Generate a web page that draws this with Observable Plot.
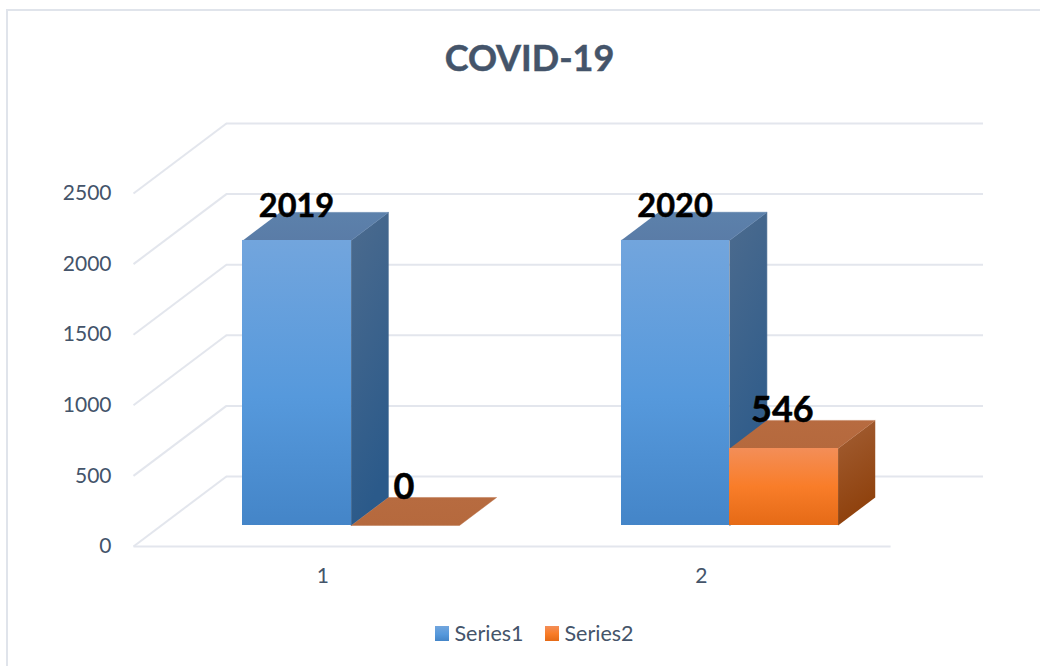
<!DOCTYPE html>
<html>
<head>
<meta charset="utf-8">
<script src="https://cdn.jsdelivr.net/npm/d3@7"></script>
<script src="https://cdn.jsdelivr.net/npm/@observablehq/plot@0.6"></script>
<style>
  html, body { margin: 0; padding: 0; background: #fff; }
  #page { position: relative; width: 1040px; height: 666px; overflow: hidden; font-family: Lato, sans-serif; color: #44546a; }
  #frame { position: absolute; left: 6px; top: 9px; right: -4px; bottom: -4px; border: 2px solid #e0e4eb; }
  #title { position: relative; height: 105px; text-align: center; font-size: 36px; font-weight: 700; -webkit-text-stroke: 0.5px #44546a; padding-left: 19px; box-sizing: border-box; padding-top: 17px; line-height: 80px; }
  #chart { position: relative; height: 495px; }
  #chart svg { display: block; }
  #legend { position: relative; height: 66px; }
  .sw { position: absolute; top: 26px; width: 14px; height: 15px; }
  .lb { position: absolute; top: 20px; font-size: 21.5px; line-height: 26px; }
</style>
</head>
<body>
<div id="page">
  <div id="frame"></div>
  <div id="title">COVID-19</div>
  <div id="chart"></div>
  <div id="legend"></div>
</div>
<script>
const categories = [1, 2];
const seriesNames = ["Series1", "Series2"];
const series1 = [2019, 2020];
const series2 = [0, 546];
const yTicks = [0, 500, 1000, 1500, 2000, 2500];

// Oblique projection of the 3D box: depth d in 0..1 shifts x and y in data units.
const depthX = 0.2454, depthY = 496;
const barStart = -0.2848, barWidth = 0.2862;
const depthFront = 0.3, depthBack = 0.7;
const px = (x, d) => x + depthX * d;
const py = (v, d) => v + depthY * d;

const bars = (values, offset, name) => values.map((v, i) => ({
  name, v,
  x1: categories[i] + barStart + offset * barWidth,
  x2: categories[i] + barStart + (offset + 1) * barWidth
}));
const s1 = bars(series1, 0, seriesNames[0]);
const s2 = bars(series2, 1, seriesNames[1]);

const front = b => ({x1: px(b.x1, depthFront), x2: px(b.x2, depthFront), y1: py(0, depthFront), y2: py(b.v, depthFront)});
const topFace = bs => bs.flatMap((b, z) => [
  {z, x: px(b.x1, depthFront), y: py(b.v, depthFront)},
  {z, x: px(b.x2, depthFront), y: py(b.v, depthFront)},
  {z, x: px(b.x2, depthBack), y: py(b.v, depthBack)},
  {z, x: px(b.x1, depthBack), y: py(b.v, depthBack)}
]);
const sideFace = bs => bs.flatMap((b, z) => [
  {z, x: px(b.x2, depthFront), y: py(b.v, depthFront)},
  {z, x: px(b.x2, depthFront), y: py(0, depthFront)},
  {z, x: px(b.x2, depthBack), y: py(0, depthBack)},
  {z, x: px(b.x2, depthBack), y: py(b.v, depthBack)}
]);
const labels = bs => bs.map(b => ({
  x: px((b.x1 + b.x2) / 2, depthFront),
  y: py(b.v, depthFront),
  text: String(b.v)
}));

const gradients = {
  blueFront: [["0%", "#72a5dd"], ["55%", "#5699dc"], ["100%", "#4485c8"]],
  orangeFront: [["0%", "#f38e58"], ["50%", "#f97d29"], ["100%", "#e56a16"]],
  blueSide: [["0%", "#4c6b8e"], ["100%", "#2b5a8a"]],
  orangeSide: [["0%", "#a35f35"], ["100%", "#8e400b"]],
  blueTop: [["0%", "#5c81ab"], ["100%", "#5a7ca7"]],
  orangeTop: [["0%", "#b76b40"], ["100%", "#b5693d"]]
};
const defsMark = () => {
  const defs = d3.create("svg:defs");
  for (const [id, stops] of Object.entries(gradients)) {
    const g = defs.append("linearGradient").attr("id", id)
      .attr("x1", 0).attr("y1", 0).attr("x2", id.endsWith("Side") ? 0.25 : 0).attr("y2", 1);
    for (const [o, c] of stops) g.append("stop").attr("offset", o).attr("stop-color", c);
  }
  return defs.node();
};

const grid = "#e3e6ed";
const x0 = 0.5, x1 = 2.5;
const labelFont = {fontFamily: "Lato, sans-serif", fontWeight: 700, fill: "#000", stroke: "#000", strokeWidth: 0.5};

const chart = Plot.plot({
  width: 1040, height: 495,
  marginLeft: 133, marginRight: 57, marginTop: 18, marginBottom: 54,
  style: {background: "transparent", fontFamily: "Lato, sans-serif"},
  x: {domain: [x0, x1 + depthX]},
  y: {domain: [0, 2500 + depthY]},
  marks: [
    defsMark,
    Plot.axisY(yTicks, {anchor: "left", label: null, tickSize: 0, tickPadding: 22, fontSize: 21, color: "#44546a", tickFormat: d => String(d)}),
    Plot.axisX(categories, {anchor: "bottom", label: null, tickSize: 0, tickPadding: 22, fontSize: 21, color: "#44546a", tickFormat: d => String(d)}),
    Plot.ruleY(yTicks, {y: d => py(d, 1), x1: px(x0, 1), x2: px(x1, 1), stroke: grid, strokeWidth: 2}),
    Plot.link(yTicks, {x1: x0, y1: d => d, x2: px(x0, 1), y2: d => py(d, 1), stroke: grid, strokeWidth: 2}),
    Plot.link([0], {x1: x0, y1: 0, x2: x1, y2: 0, stroke: grid, strokeWidth: 2}),
    Plot.line(sideFace(s1), {x: "x", y: "y", z: "z", fill: "url(#blueSide)", stroke: "url(#blueSide)", strokeWidth: 0.6}),
    Plot.line(topFace(s1), {x: "x", y: "y", z: "z", fill: "url(#blueTop)", stroke: "url(#blueTop)", strokeWidth: 0.6}),
    Plot.rect(s1.map(front), {x1: "x1", x2: "x2", y1: "y1", y2: "y2", fill: "url(#blueFront)", inset: 0, shapeRendering: "crispEdges"}),
    Plot.line(sideFace(s2), {x: "x", y: "y", z: "z", fill: "url(#orangeSide)", stroke: "none"}),
    Plot.line(topFace(s2), {x: "x", y: "y", z: "z", fill: "url(#orangeTop)", stroke: "url(#orangeTop)", strokeWidth: 0.4}),
    Plot.rect(s2.map(front), {x1: "x1", x2: "x2", y1: "y1", y2: "y2", fill: "url(#orangeFront)", inset: 0, shapeRendering: "crispEdges"}),
    Plot.text(labels(s1), {x: "x", y: "y", text: "text", dx: -0.5, dy: -34, fontSize: 32.5, ...labelFont}),
    Plot.text(labels(s2), {x: "x", y: "y", text: "text", dx: -1.5, dy: -38, fontSize: 36, ...labelFont})
  ]
});
document.getElementById("chart").append(chart);

const legend = document.getElementById("legend");
const swatchCss = ["linear-gradient(#72a5dd,#5699dc 55%,#4485c8)", "linear-gradient(#f38e58,#f97d29 50%,#e56a16)"];
const swatchX = [435, 545];
seriesNames.forEach((name, i) => {
  const sw = document.createElement("div");
  sw.className = "sw";
  sw.style.left = swatchX[i] + "px";
  sw.style.background = swatchCss[i];
  const lb = document.createElement("div");
  lb.className = "lb";
  lb.style.left = (swatchX[i] + 19.5) + "px";
  lb.textContent = name;
  legend.append(sw, lb);
});
</script>
</body>
</html>
